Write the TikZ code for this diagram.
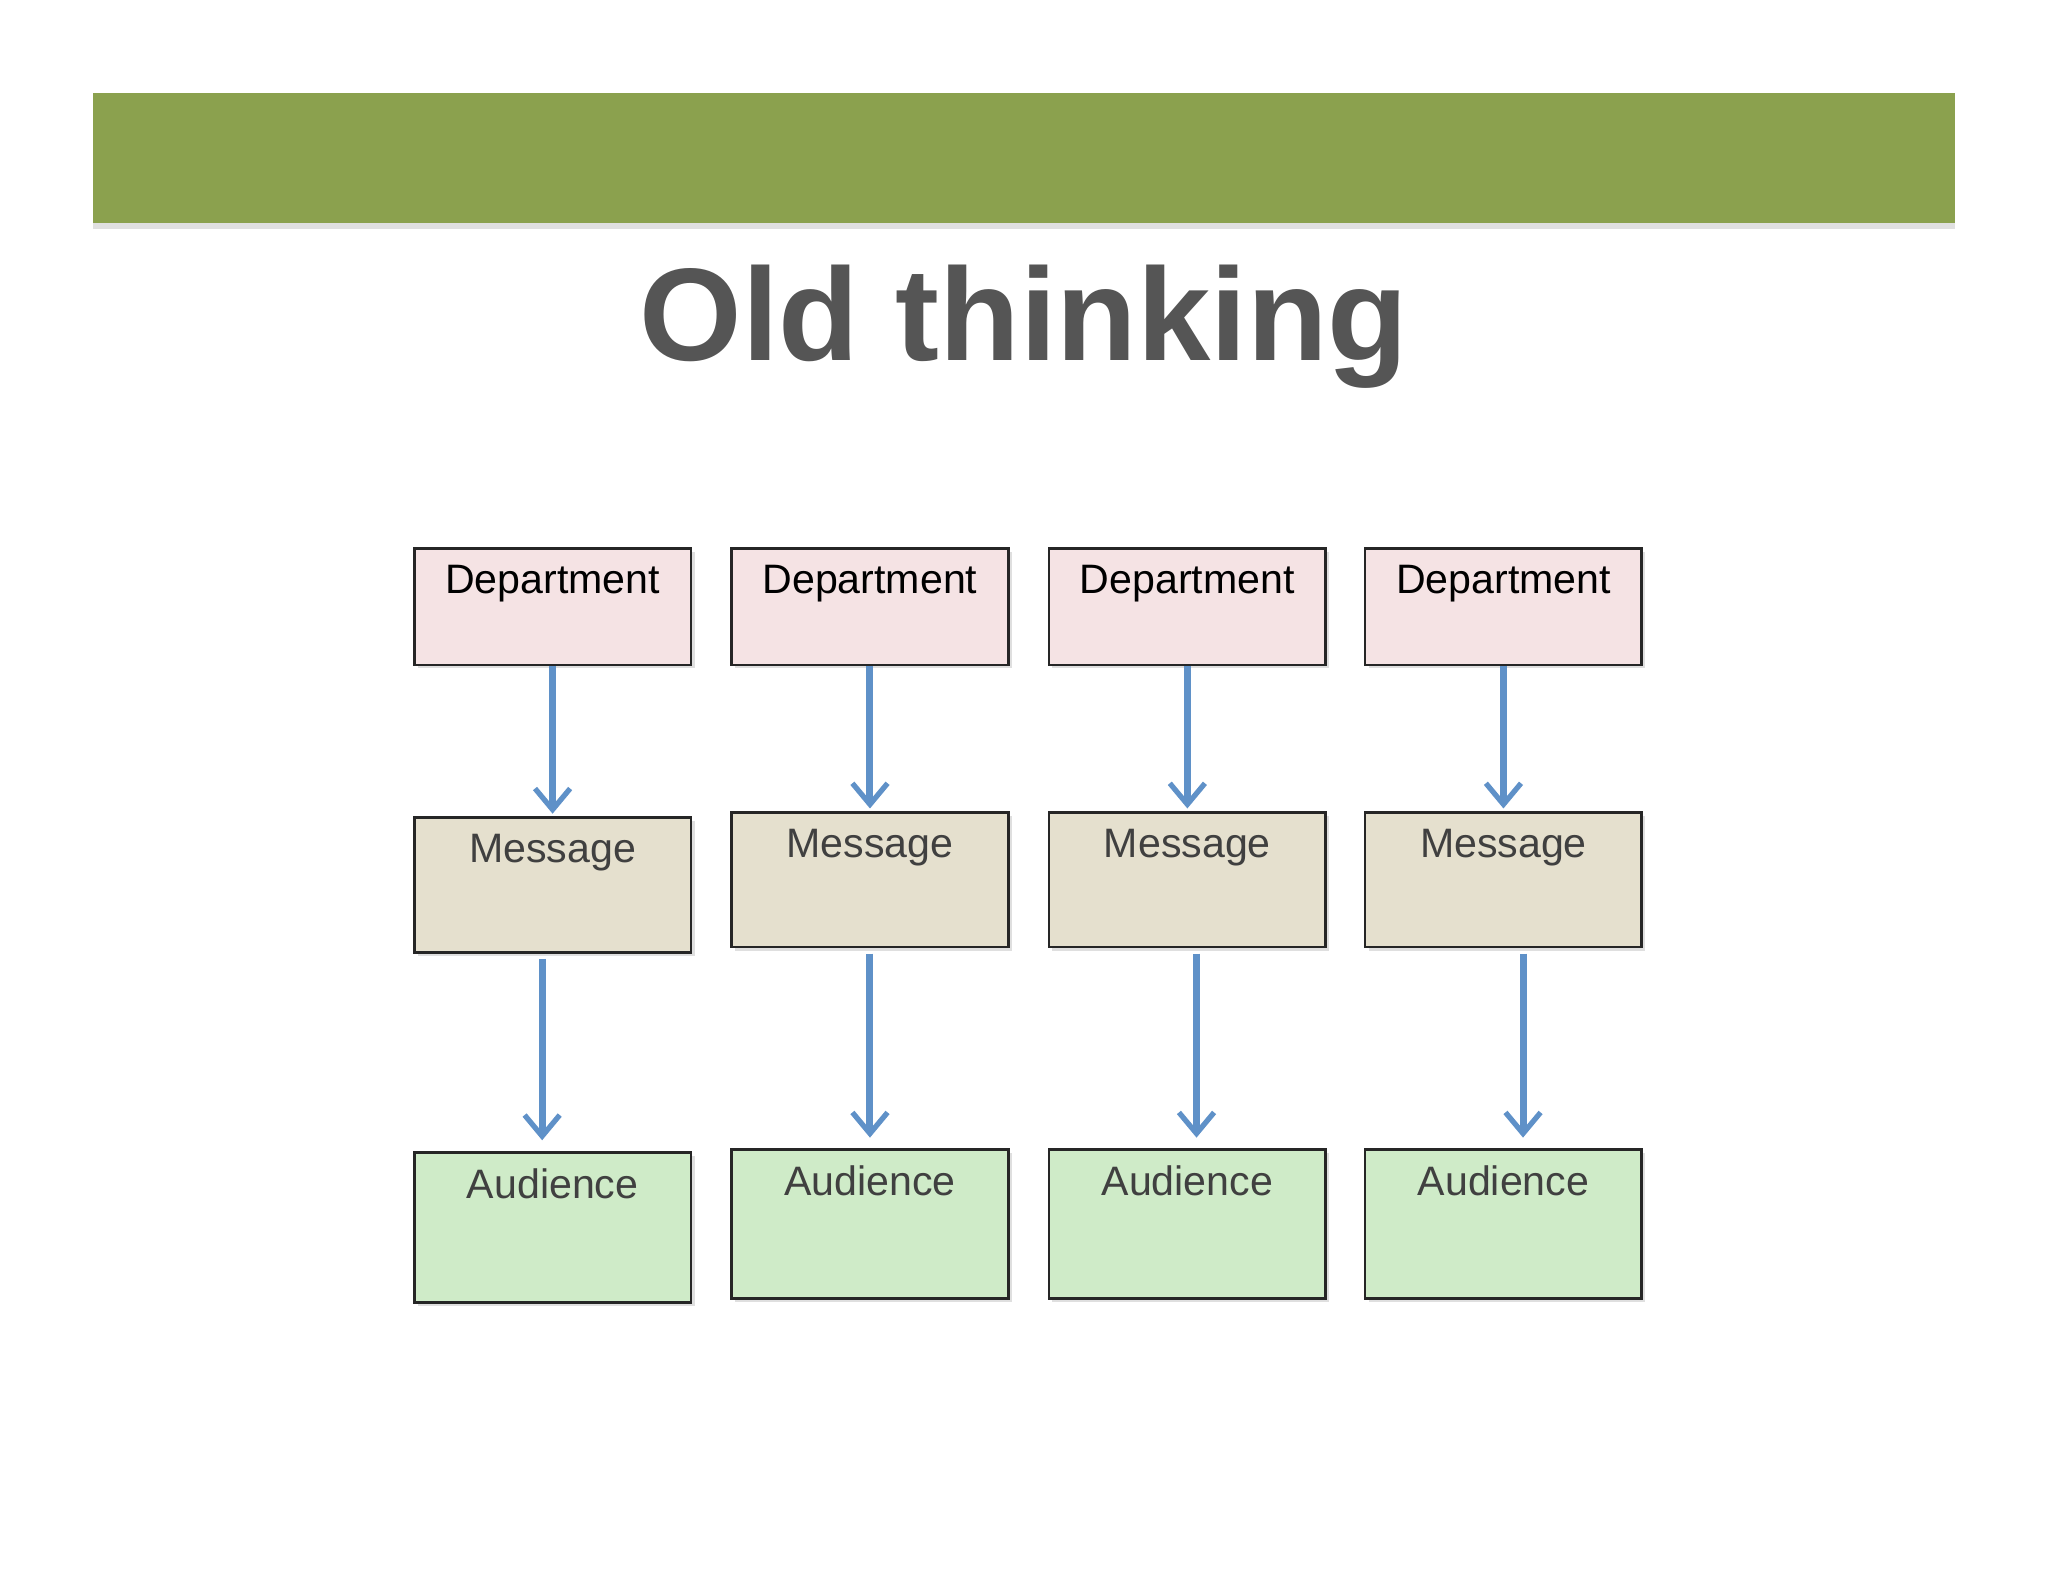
\documentclass[tikz,border=0pt]{standalone}
\usepackage{fontspec}
\setmainfont{Liberation Sans}
\usetikzlibrary{arrows.meta,calc,shadows}
\definecolor{bar}{HTML}{8BA14E}
\definecolor{ttl}{HTML}{555555}
\definecolor{dept}{HTML}{F5E3E4}
\definecolor{msg}{HTML}{E5E0CE}
\definecolor{aud}{HTML}{CFEBC8}
\definecolor{arr}{HTML}{5F91C8}
\definecolor{txt}{HTML}{404040}
\begin{document}
\begin{tikzpicture}[x=0.01306cm,y=-0.01306cm,
  box/.style={draw=black!85,line width=0.8pt,anchor=north west,inner sep=0pt,minimum width=212*0.01306cm,
    drop shadow={shadow xshift=1pt,shadow yshift=-1pt,opacity=0.25}},
  lbl/.style={anchor=north,font=\fontsize{11.7}{14}\selectfont,inner sep=0pt},
  conn/.style={draw=arr,line width=2pt,-{Straight Barb[length=6pt,width=10pt,line width=1.5pt]}}]
\useasboundingbox (0,0) rectangle (1568,1211);
\fill[bar] (71,71) rectangle (1497,171);
\fill[black,opacity=0.12] (71,171) rectangle (1497,175);
\node[font=\bfseries\fontsize{37.5}{44}\selectfont,text=ttl] (title) at (784,250) {Old thinking};
\foreach \i/\x/\my/\mh/\ay/\ah/\dx/\ddx in {1/316/625/103/881/115/-8/0,2/559/621/103/879/114/0/0,3/802/621/103/879/114/7/0,4/1044/621/103/879/114/15/0}{
  \node[box,fill=dept,minimum height=89*0.01306cm] (d\i) at (\x,419) {};
  \node[box,fill=msg,minimum height=\mh*0.01306cm] (m\i) at (\x,\my) {};
  \node[box,fill=aud,minimum height=\ah*0.01306cm] (a\i) at (\x,\ay) {};
  \node[lbl,text=black] (dt\i) at ($(d\i.north)+(0,13)$) {Department};
  \node[lbl,text=txt] (mt\i) at ($(m\i.north)+(0,13)$) {Message};
  \node[lbl,text=txt] (at\i) at ($(a\i.north)+(0,13)$) {Audience};
  \draw[conn] (d\i.south) -- ($(m\i.north)+(0,-2)$);
  \draw[conn] ($(m\i.south)+(\dx,4)$) -- ($(a\i.north)+(\dx,-8)$);
}
\end{tikzpicture}
\end{document}
